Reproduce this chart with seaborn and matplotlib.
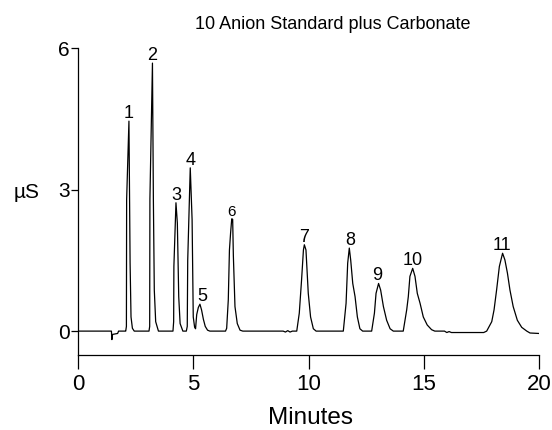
import matplotlib
matplotlib.use("Agg")
import matplotlib.pyplot as plt
import seaborn as sns
import pandas as pd

# ---- data ----
trace_time = [
    0.00, 1.45, 1.47, 1.50, 1.72, 1.76, 2.05,
    2.07, 2.10, 2.11, 2.21, 2.26, 2.30, 2.36, 2.44,
    3.08, 3.11, 3.12, 3.23, 3.27, 3.31, 3.37, 3.49,
    4.12, 4.15, 4.16, 4.25, 4.31, 4.37, 4.43, 4.55,
    4.70, 4.74, 4.76, 4.87, 4.95, 5.00, 5.06, 5.10,
    5.15, 5.22, 5.29, 5.36, 5.44, 5.52, 5.62, 5.72,
    6.40, 6.45, 6.52, 6.57, 6.62, 6.67, 6.71, 6.74, 6.81, 6.91, 7.03, 7.15,
    8.90, 9.00, 9.10, 9.20, 9.30,
    9.49, 9.60, 9.70, 9.78, 9.82, 9.89, 9.99, 10.09, 10.21, 10.33,
    11.51, 11.63, 11.70, 11.77, 11.83, 11.92, 12.02, 12.12, 12.23, 12.35,
    12.74, 12.86, 12.93, 13.04, 13.13, 13.25, 13.39, 13.54, 13.68,
    14.11, 14.26, 14.33, 14.40, 14.52, 14.62, 14.72, 14.84, 14.98, 15.15, 15.34, 15.48,
    15.90, 16.00, 16.10, 16.20, 16.30, 17.60,
    17.73, 17.95, 18.05, 18.16, 18.28, 18.42, 18.52, 18.63, 18.74, 18.88, 19.06, 19.25,
    19.47, 19.61, 20.00,
]
trace_signal = [
    0.00, 0.00, -0.18, -0.07, -0.05, 0.00, 0.00,
    0.00, 0.10, 2.79, 4.45, 1.44, 0.30, 0.06, 0.00,
    0.00, 0.10, 2.80, 5.68, 2.79, 0.87, 0.20, 0.00,
    0.00, 0.20, 1.37, 2.72, 2.29, 0.73, 0.16, 0.00,
    0.00, 0.10, 1.50, 3.46, 2.36, 0.30, 0.08, 0.05,
    0.35, 0.50, 0.57, 0.45, 0.25, 0.10, 0.02, 0.00,
    0.00, 0.06, 0.66, 1.72, 2.08, 2.38, 2.37, 1.60, 0.52, 0.16, 0.02, 0.00,
    0.00, -0.02, 0.01, -0.02, 0.00,
    0.00, 0.38, 1.09, 1.72, 1.83, 1.72, 0.80, 0.30, 0.05, 0.00,
    0.00, 0.59, 1.44, 1.76, 1.51, 1.01, 0.73, 0.30, 0.05, 0.00,
    0.00, 0.38, 0.80, 1.01, 0.87, 0.52, 0.23, 0.05, 0.00,
    0.00, 0.45, 0.73, 1.16, 1.33, 1.16, 0.80, 0.59, 0.30, 0.13, 0.03, 0.00,
    0.00, -0.03, -0.01, -0.03, -0.03, -0.03,
    0.00, 0.20, 0.45, 0.87, 1.37, 1.65, 1.51, 1.23, 0.87, 0.52, 0.23, 0.08,
    0.00, -0.04, -0.05,
]
peak_labels = ["1", "2", "3", "4", "5", "6", "7", "8", "9", "10", "11"]
peak_label_time = [2.21, 3.21, 4.25, 4.90, 5.38, 6.68, 9.80, 11.80, 13.00, 14.53, 18.40]
peak_apex = [4.45, 5.68, 2.72, 3.46, 0.57, 2.38, 1.83, 1.76, 1.01, 1.33, 1.65]
x_ticks = [0, 5, 10, 15, 20]
y_ticks = [0, 3, 6]

title = "10 Anion Standard plus Carbonate"
x_label = "Minutes"
y_label = "µS"

# ---- plotting ----
sns.set_theme(style="ticks")
plt.rcParams["font.family"] = ["Liberation Sans", "DejaVu Sans"]
plt.rcParams["text.color"] = "black"
plt.rcParams["xtick.color"] = "black"
plt.rcParams["ytick.color"] = "black"
plt.rcParams["axes.labelcolor"] = "black"

fig = plt.figure(figsize=(5.52, 4.30), dpi=100)
ax = fig.add_axes([78 / 552, 1 - 354.7 / 430, (539 - 78) / 552, (354.7 - 48) / 430])

df = pd.DataFrame({"t": trace_time, "s": trace_signal})
sns.lineplot(data=df, x="t", y="s", ax=ax, color="black", linewidth=0.9,
             sort=False, estimator=None)

ax.set_xlim(0, 20)
ax.set_ylim(-0.5, 6)
ax.set_xticks(x_ticks)
ax.set_yticks(y_ticks)
ax.set_xticklabels([str(v) for v in x_ticks], fontsize=16)
ax.set_yticklabels([str(v) for v in y_ticks], fontsize=15)
ax.tick_params(axis="x", length=10, width=0.9, color="black", labelcolor="black", pad=4)
ax.tick_params(axis="y", length=5, width=0.9, color="black", labelcolor="black", pad=1)
ax.set_xlabel("")
ax.set_ylabel("")
for side in ["top", "right"]:
    ax.spines[side].set_visible(False)
for side in ["left", "bottom"]:
    ax.spines[side].set_linewidth(0.9)
    ax.spines[side].set_color("black")

for lab, t, v in zip(peak_labels, peak_label_time, peak_apex):
    ax.annotate(lab, (t, v), xytext=(0, 3), textcoords="offset pixels",
                ha="center", va="baseline", fontsize=11 if lab == "6" else 13,
                color="black")

fig.text(333 / 552, 1 - 29 / 430, title, ha="center", va="baseline", fontsize=13,
         color="black")
fig.text(311 / 552, 1 - 424 / 430, x_label, ha="center", va="baseline", fontsize=17.5,
         color="black")
fig.text(27 / 552, 1 - 198 / 430, y_label, ha="center", va="baseline", fontsize=15,
         color="black")

fig.savefig("out.png", dpi=100)
